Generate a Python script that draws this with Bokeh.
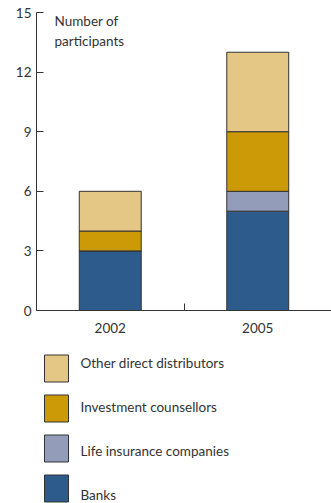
from bokeh.plotting import figure
from bokeh.models import ColumnDataSource, Range1d, FixedTicker, Label
from bokeh.layouts import column
from bokeh.embed import file_html
from bokeh.resources import INLINE
from bokeh.core.properties import value

# ---- data ----
years = ["2002", "2005"]
series = ["Banks", "Life insurance companies", "Investment counsellors", "Other direct distributors"]
banks = [3, 5]
life = [0, 1]
invest = [1, 3]
other = [2, 4]
y_ticks = [0, 3, 6, 9, 12, 15]
colors = ["#2d5b8b", "#939db9", "#cc9a07", "#e4c685"]

FONT = "Lato"
FS = "13.5px"
TXT = "#333333"
LEFT = 36

xs = [i + 0.5 for i in range(len(years))]
src = ColumnDataSource(dict(x=xs, banks=banks, life=life, invest=invest, other=other))
keys = ["banks", "life", "invest", "other"]

p = figure(width=331, height=340, output_backend="svg", toolbar_location=None,
           x_range=Range1d(0, len(years)), y_range=Range1d(0, 15),
           min_border_left=LEFT, min_border_right=0, min_border_top=12, min_border_bottom=30)
p.vbar_stack(keys, x="x", width=0.42, source=src, fill_color=colors,
             line_color="#333333", line_width=1)

p.xgrid.visible = False
p.ygrid.visible = False
p.outline_line_color = None

ya = p.yaxis[0]
ya.ticker = FixedTicker(ticks=y_ticks)
ya.major_tick_in = 7
ya.major_tick_out = 0
ya.minor_tick_line_color = None
ya.axis_line_color = TXT
ya.major_tick_line_color = TXT
ya.major_label_text_font = FONT
ya.major_label_text_font_size = FS
ya.major_label_text_color = TXT
ya.major_label_standoff = 5

xa = p.xaxis[0]
xa.ticker = FixedTicker(ticks=xs, minor_ticks=[i for i in range(1, len(years))])
xa.major_label_overrides = {x: y for x, y in zip(xs, years)}
xa.major_tick_line_color = None
xa.minor_tick_in = 7
xa.minor_tick_out = 0
xa.minor_tick_line_color = TXT
xa.axis_line_color = TXT
xa.major_label_text_font = FONT
xa.major_label_text_font_size = FS
xa.major_label_text_color = TXT
xa.major_label_standoff = 6

p.add_layout(Label(x=18, y=298, x_units="screen", y_units="screen",
                   text="Number of\nparticipants", text_baseline="top",
                   text_font=FONT, text_font_size=FS, text_color=TXT,
                   text_line_height=1.3))

# ---- legend figure (frame aligned with chart frame, so x range starts at LEFT) ----
lg = figure(width=331, height=163, output_backend="svg", toolbar_location=None,
            x_range=Range1d(LEFT, 331), y_range=Range1d(163, 0),
            min_border_left=LEFT, min_border_right=0, min_border_top=0, min_border_bottom=0,
            x_axis_location=None, y_axis_location=None)
lg.xgrid.visible = False
lg.ygrid.visible = False
lg.outline_line_color = None

order = list(range(len(series)))[::-1]
box_y = [28 + 40 * k for k in range(len(order))]
text_dy = [-6, -1.5, 2.5, 6.5]
lsrc = ColumnDataSource(dict(
    x=[56] * len(order), y=box_y,
    color=[colors[i] for i in order],
    label=[series[i] for i in order],
    tx=[80] * len(order),
    ty=[b + d for b, d in zip(box_y, text_dy)],
))
lg.rect(x="x", y="y", width=24, height=27, fill_color="color",
        line_color="#333333", line_width=1, source=lsrc)
lg.text(x="tx", y="ty", text="label", text_baseline="middle", text_align="left",
        text_font=value(FONT), text_font_size=FS, text_color=TXT, source=lsrc)

layout = column(p, lg, spacing=0)
open("out.html", "w").write(file_html(layout, INLINE))
